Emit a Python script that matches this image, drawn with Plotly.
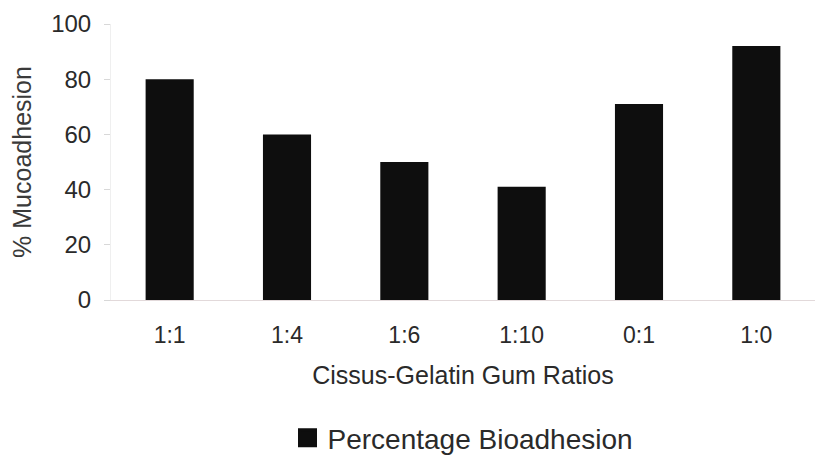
import plotly.graph_objects as go

# Mucoadhesion by Cissus : Gelatin gum ratio
ratios = ["1:1", "1:4", "1:6", "1:10", "0:1", "1:0"]
bioadhesion = [80, 60, 50, 41, 71, 92]
y_ticks = [0, 20, 40, 60, 80, 100]
y_tick_text = ["0", "20", "40", "60", "80", "100"]

INK = "#2a2a2a"
BAR = "#0e0e0e"
FONT = "Liberation Sans, Arial, sans-serif"

fig = go.Figure()

fig.add_trace(go.Bar(
    x=ratios,
    y=bioadhesion,
    name="Percentage Bioadhesion",
    marker=dict(color=BAR, line=dict(width=0)),
    width=0.41,
    showlegend=False,
))

# legend entry with a larger square key
fig.add_trace(go.Scatter(
    x=[None], y=[None],
    mode="markers",
    name="Percentage Bioadhesion",
    marker=dict(symbol="square", size=16, color=BAR,
                line=dict(color=BAR, width=3)),
    showlegend=True,
))

fig.update_layout(
    width=815, height=457,
    margin=dict(l=111, r=0, t=24, b=157, autoexpand=False),
    paper_bgcolor="white",
    plot_bgcolor="white",
    font=dict(family=FONT, color=INK, size=22),
    showlegend=True,
    legend=dict(
        orientation="h",
        x=0.5, xanchor="center",
        y=-0.50, yanchor="middle",
        font=dict(size=28, color=INK),
        itemsizing="trace",
    ),
    xaxis=dict(
        type="category",
        categoryorder="array",
        categoryarray=ratios,
        automargin=False,
        showline=True,
        linecolor="#e2d9da",
        linewidth=1,
        ticks="",
        showgrid=False,
        zeroline=False,
        tickfont=dict(size=23, color=INK),
        ticklabelstandoff=14,
        title=dict(text="Cissus-Gelatin Gum Ratios",
                   font=dict(size=25, color=INK), standoff=19),
    ),
    yaxis=dict(
        range=[0, 100],
        tickvals=y_ticks,
        ticktext=y_tick_text,
        automargin=False,
        showline=True,
        linecolor="#efefef",
        linewidth=1,
        ticks="outside",
        ticklen=6,
        tickcolor="#d8d8d8",
        showgrid=False,
        zeroline=False,
        tickfont=dict(size=24, color=INK),
        ticklabelstandoff=8,
        title=dict(text="% Mucoadhesion",
                   font=dict(size=25, color="#3a3a3a"), standoff=12),
    ),
    bargap=0.59,
)

fig.write_html("out.html")
